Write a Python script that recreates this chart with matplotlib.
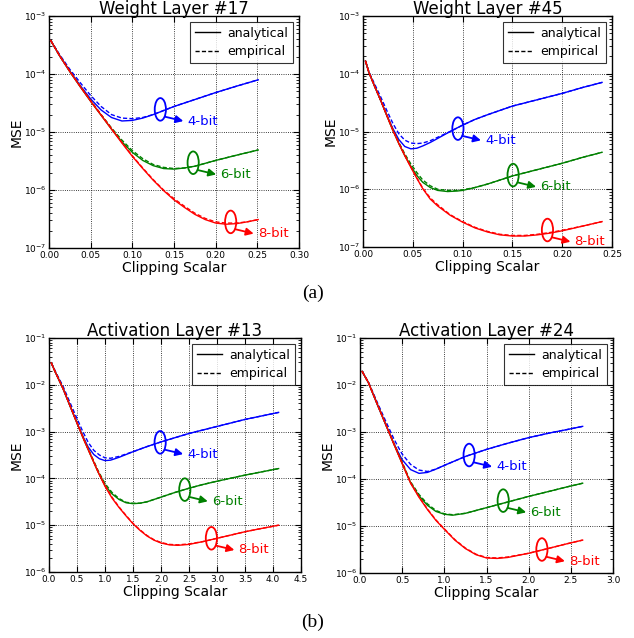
"""MSE versus clipping scalar for weight and activation layers (4/6/8-bit)."""

import matplotlib

matplotlib.use("Agg")
import matplotlib.pyplot as plt  # noqa: E402
import numpy as np  # noqa: E402
from matplotlib.patches import Ellipse  # noqa: E402
from matplotlib.transforms import ScaledTranslation  # noqa: E402

# ---- data (y values are log10 MSE) ----
# Weight Layer #17
w17_x4 = [0.002, 0.0125, 0.025, 0.0375, 0.05, 0.0625, 0.075, 0.0875, 0.1, 0.1125,
          0.125, 0.1375, 0.15, 0.175, 0.2, 0.225, 0.251]
w17_a4 = [-3.42, -3.68, -3.95, -4.20, -4.43, -4.62, -4.75, -4.81, -4.80, -4.76,
          -4.70, -4.63, -4.56, -4.44, -4.32, -4.21, -4.10]
w17_e4 = [-3.42, -3.66, -3.92, -4.15, -4.37, -4.56, -4.70, -4.76, -4.77, -4.75,
          -4.70, -4.63, -4.56, -4.44, -4.32, -4.21, -4.10]
w17_x6 = [0.002, 0.0125, 0.025, 0.0375, 0.05, 0.0625, 0.075, 0.0875, 0.1, 0.1125,
          0.125, 0.1375, 0.15, 0.1625, 0.175, 0.1875, 0.2, 0.225, 0.251]
w17_a6 = [-3.42, -3.68, -3.96, -4.22, -4.47, -4.71, -4.95, -5.17, -5.35, -5.49,
          -5.58, -5.63, -5.64, -5.62, -5.59, -5.54, -5.49, -5.40, -5.31]
w17_e6 = [-3.42, -3.68, -3.95, -4.21, -4.46, -4.70, -4.93, -5.14, -5.32, -5.46,
          -5.56, -5.61, -5.63, -5.62, -5.59, -5.54, -5.49, -5.40, -5.31]
w17_x8 = [0.002, 0.0125, 0.025, 0.0375, 0.05, 0.0625, 0.075, 0.0875, 0.1, 0.1125,
          0.125, 0.1375, 0.15, 0.1625, 0.175, 0.1875, 0.2, 0.2125, 0.225, 0.2375, 0.251]
w17_a8 = [-3.42, -3.68, -3.96, -4.22, -4.47, -4.71, -4.95, -5.19, -5.42, -5.63,
          -5.83, -6.01, -6.17, -6.30, -6.42, -6.51, -6.57, -6.59, -6.58, -6.55, -6.51]
w17_e8 = [-3.42, -3.68, -3.95, -4.21, -4.46, -4.70, -4.94, -5.18, -5.41, -5.62,
          -5.82, -6.00, -6.15, -6.28, -6.40, -6.49, -6.55, -6.57, -6.57, -6.55, -6.51]

# Weight Layer #45
w45_x4 = [0.0025, 0.006, 0.012, 0.018, 0.024, 0.03, 0.036, 0.042, 0.048, 0.054, 0.06,
          0.0675, 0.075, 0.0875, 0.1, 0.1125, 0.125, 0.15, 0.175, 0.2, 0.22, 0.24]
w45_a4 = [-3.78, -3.98, -4.23, -4.47, -4.72, -4.95, -5.14, -5.26, -5.30, -5.29, -5.25,
          -5.19, -5.12, -5.00, -4.89, -4.79, -4.71, -4.56, -4.45, -4.34, -4.24, -4.15]
w45_e4 = [-3.78, -3.97, -4.19, -4.41, -4.64, -4.86, -5.04, -5.15, -5.20, -5.21, -5.20,
          -5.16, -5.10, -5.00, -4.89, -4.79, -4.71, -4.56, -4.45, -4.34, -4.24, -4.15]
w45_x6 = [0.0025, 0.006, 0.012, 0.018, 0.024, 0.03, 0.036, 0.042, 0.048, 0.054, 0.06,
          0.0675, 0.075, 0.085, 0.095, 0.1, 0.1125, 0.125, 0.1375, 0.15, 0.175, 0.2,
          0.22, 0.24]
w45_a6 = [-3.78, -3.98, -4.23, -4.47, -4.73, -4.98, -5.21, -5.42, -5.60, -5.76, -5.88,
          -5.97, -6.02, -6.04, -6.03, -6.02, -5.97, -5.91, -5.84, -5.77, -5.66, -5.55,
          -5.45, -5.36]
w45_e6 = [-3.78, -3.98, -4.23, -4.47, -4.72, -4.97, -5.19, -5.39, -5.56, -5.71, -5.84,
          -5.94, -6.00, -6.02, -6.02, -6.01, -5.97, -5.91, -5.84, -5.77, -5.66, -5.55,
          -5.45, -5.36]
w45_x8 = [0.0025, 0.006, 0.012, 0.018, 0.024, 0.03, 0.036, 0.042, 0.048, 0.054, 0.06,
          0.0675, 0.075, 0.0875, 0.1, 0.1125, 0.125, 0.1375, 0.15, 0.1625, 0.175, 0.1875,
          0.2, 0.22, 0.24]
w45_a8 = [-3.78, -3.98, -4.23, -4.47, -4.73, -4.98, -5.21, -5.42, -5.62, -5.81, -5.99,
          -6.17, -6.29, -6.45, -6.57, -6.67, -6.74, -6.79, -6.81, -6.81, -6.79, -6.76,
          -6.72, -6.64, -6.56]
w45_e8 = [-3.78, -3.98, -4.23, -4.47, -4.72, -4.97, -5.20, -5.41, -5.61, -5.80, -5.98,
          -6.15, -6.27, -6.44, -6.56, -6.66, -6.73, -6.78, -6.80, -6.80, -6.78, -6.75,
          -6.71, -6.64, -6.56]

# Activation Layer #13
a13_x4 = [0.04, 0.125, 0.25, 0.375, 0.5, 0.6, 0.7, 0.8, 0.9, 1.0, 1.1, 1.25, 1.5,
          1.75, 2.0, 2.5, 3.0, 3.5, 4.1]
a13_a4 = [-1.53, -1.76, -2.08, -2.45, -2.81, -3.09, -3.33, -3.49, -3.58, -3.62, -3.61,
          -3.55, -3.43, -3.32, -3.22, -3.04, -2.89, -2.74, -2.59]
a13_e4 = [-1.53, -1.74, -2.03, -2.38, -2.72, -2.99, -3.23, -3.40, -3.50, -3.56, -3.57,
          -3.53, -3.43, -3.32, -3.22, -3.04, -2.89, -2.74, -2.59]
a13_x6 = [0.04, 0.125, 0.25, 0.375, 0.5, 0.625, 0.75, 0.875, 1.0, 1.125, 1.25, 1.375,
          1.5, 1.625, 1.75, 2.0, 2.25, 2.5, 2.75, 3.0, 3.5, 4.1]
a13_a6 = [-1.53, -1.76, -2.08, -2.45, -2.82, -3.18, -3.52, -3.86, -4.15, -4.33, -4.45,
          -4.52, -4.54, -4.53, -4.50, -4.40, -4.30, -4.21, -4.13, -4.06, -3.93, -3.79]
a13_e6 = [-1.53, -1.76, -2.07, -2.44, -2.81, -3.16, -3.50, -3.83, -4.11, -4.30, -4.43,
          -4.51, -4.53, -4.53, -4.50, -4.40, -4.30, -4.21, -4.13, -4.06, -3.93, -3.79]
a13_x8 = [0.04, 0.125, 0.25, 0.375, 0.5, 0.625, 0.75, 0.875, 1.0, 1.125, 1.25, 1.375,
          1.5, 1.625, 1.75, 1.875, 2.0, 2.15, 2.3, 2.5, 2.75, 3.0, 3.25, 3.5, 3.75, 4.1]
a13_a8 = [-1.53, -1.76, -2.08, -2.45, -2.82, -3.18, -3.52, -3.86, -4.17, -4.42, -4.62,
          -4.80, -4.97, -5.11, -5.23, -5.32, -5.38, -5.42, -5.43, -5.41, -5.35, -5.28,
          -5.21, -5.14, -5.08, -5.00]
a13_e8 = [-1.53, -1.76, -2.07, -2.44, -2.81, -3.17, -3.51, -3.85, -4.15, -4.40, -4.61,
          -4.79, -4.96, -5.10, -5.22, -5.31, -5.37, -5.41, -5.42, -5.40, -5.35, -5.28,
          -5.21, -5.14, -5.08, -5.00]

# Activation Layer #24
a24_x4 = [0.025, 0.1, 0.2, 0.3, 0.4, 0.45, 0.5, 0.6, 0.7, 0.8, 0.9, 1.0, 1.25, 1.5,
          1.75, 2.0, 2.25, 2.45, 2.64]
a24_a4 = [-1.71, -1.95, -2.39, -2.82, -3.24, -3.42, -3.59, -3.80, -3.88, -3.86, -3.79,
          -3.71, -3.52, -3.37, -3.24, -3.12, -3.02, -2.95, -2.88]
a24_e4 = [-1.71, -1.94, -2.35, -2.75, -3.14, -3.31, -3.47, -3.69, -3.81, -3.84, -3.79,
          -3.71, -3.52, -3.37, -3.24, -3.12, -3.02, -2.95, -2.88]
a24_x6 = [0.025, 0.1, 0.2, 0.3, 0.4, 0.5, 0.6, 0.7, 0.8, 0.9, 1.0, 1.1, 1.25, 1.5,
          1.75, 2.0, 2.25, 2.45, 2.64]
a24_a6 = [-1.71, -1.95, -2.39, -2.82, -3.25, -3.67, -4.08, -4.36, -4.56, -4.69, -4.75,
          -4.77, -4.73, -4.61, -4.49, -4.37, -4.26, -4.17, -4.09]
a24_e6 = [-1.71, -1.95, -2.38, -2.81, -3.23, -3.64, -4.06, -4.33, -4.53, -4.67, -4.74,
          -4.76, -4.73, -4.61, -4.49, -4.37, -4.26, -4.17, -4.09]
a24_x8 = [0.025, 0.1, 0.2, 0.3, 0.4, 0.5, 0.6, 0.7, 0.8, 0.9, 1.0, 1.125, 1.25, 1.375,
          1.5, 1.625, 1.75, 2.0, 2.25, 2.45, 2.64]
a24_a8 = [-1.71, -1.95, -2.39, -2.82, -3.25, -3.67, -4.09, -4.39, -4.65, -4.88, -5.07,
          -5.30, -5.48, -5.61, -5.68, -5.69, -5.67, -5.58, -5.47, -5.38, -5.30]
a24_e8 = [-1.71, -1.95, -2.38, -2.81, -3.24, -3.66, -4.08, -4.38, -4.64, -4.87, -5.06,
          -5.29, -5.47, -5.60, -5.67, -5.68, -5.66, -5.58, -5.47, -5.38, -5.30]

# ellipse markers: (x, log10 MSE) for 4-, 6-, 8-bit
w17_marks = [(0.1336, -4.61), (0.173, -5.53), (0.218, -6.55)]
w45_marks = [(0.0953, -4.95), (0.1507, -5.755), (0.1852, -6.706)]
a13_marks = [(1.985, -3.23), (2.425, -4.24), (2.90, -5.28)]
a24_marks = [(1.294, -3.49), (1.698, -4.46), (2.157, -5.50)]

bit_labels = ["4-bit", "6-bit", "8-bit"]
bit_colors = ["#0000ff", "#008000", "#ff0000"]

W, H = 634, 638
fig = plt.figure(figsize=(W / 100, H / 100), dpi=100)


def px_axes(left, top, right, bottom):
    return fig.add_axes([left / W, 1 - bottom / H, (right - left) / W, (bottom - top) / H])


def draw_panel(ax, title, curves, marks, xlim, ylim, xticks, xfmt):
    for (x, a, e), color in zip(curves, bit_colors):
        ax.plot(x, np.power(10.0, a), color=color, lw=1.0, zorder=3)
        ax.plot(x, np.power(10.0, e), color=color, lw=1.0, dashes=(3, 1.6), zorder=3)
    ax.plot([], [], color="k", lw=1.0, label="analytical")
    ax.plot([], [], color="k", lw=1.0, dashes=(3, 1.6), label="empirical")

    for (mx, my), color, label in zip(marks, bit_colors, bit_labels):
        my = 10.0 ** my
        anchor = ScaledTranslation(mx, my, ax.transData)
        ax.add_patch(Ellipse((0, 0), 0.112, 0.226, transform=fig.dpi_scale_trans + anchor,
                             fill=False, ec=color, lw=1.3, zorder=4))
        start = ax.transData + ScaledTranslation(0.045, -0.073, fig.dpi_scale_trans)
        tip = ax.transData + ScaledTranslation(0.23, -0.117, fig.dpi_scale_trans)
        ax.annotate("", xy=(mx, my), xycoords=tip, xytext=(mx, my), textcoords=start,
                    arrowprops=dict(arrowstyle="-|>", color=color, lw=1.3,
                                    mutation_scale=11, shrinkA=0, shrinkB=0), zorder=4)
        ax.annotate(label, xy=(mx, my), xytext=(19.5, -8.4), textcoords="offset points",
                    ha="left", va="center", color=color, fontsize=9.5, zorder=4)

    ax.set_yscale("log")
    ax.set_xlim(*xlim)
    ax.set_ylim(*ylim)
    ax.set_xticks(xticks)
    ax.set_xticklabels([xfmt.format(t) for t in xticks])
    ax.grid(True, which="major", color="k", linestyle=":", lw=0.6)
    ax.tick_params(which="both", direction="in", top=True, right=True, labelsize=6.5, pad=2)
    ax.tick_params(which="major", length=4)
    ax.tick_params(which="minor", length=2)
    for spine in ax.spines.values():
        spine.set_linewidth(1.0)
    # title placed by hand so it sits tight on the frame, as in the source figure
    title_pos = ax.transAxes + ScaledTranslation(0, 0.02, fig.dpi_scale_trans)
    ax.text(0.5, 1.0, title, transform=title_pos, ha="center", va="baseline", fontsize=12)
    ax.set_xlabel("Clipping Scalar", fontsize=10, labelpad=1)
    ax.set_ylabel("MSE", fontsize=10, labelpad=0)
    leg = ax.legend(loc="upper right", fontsize=9, fancybox=False, handlelength=2.0,
                    labelspacing=0.45, borderaxespad=0.45, handletextpad=0.6)
    leg.get_frame().set_edgecolor("k")
    leg.get_frame().set_linewidth(0.8)


ax_tl = px_axes(49, 16, 299, 248)
ax_tr = px_axes(363, 16, 612, 247)
ax_bl = px_axes(49, 338, 301, 572)
ax_br = px_axes(360, 338, 613, 573)

draw_panel(ax_tl, "Weight Layer #17",
           [(w17_x4, w17_a4, w17_e4), (w17_x6, w17_a6, w17_e6), (w17_x8, w17_a8, w17_e8)],
           w17_marks, (0, 0.30), (1e-7, 1e-3), [0, 0.05, 0.10, 0.15, 0.20, 0.25, 0.30], "{:.2f}")
draw_panel(ax_tr, "Weight Layer #45",
           [(w45_x4, w45_a4, w45_e4), (w45_x6, w45_a6, w45_e6), (w45_x8, w45_a8, w45_e8)],
           w45_marks, (0, 0.25), (1e-7, 1e-3), [0, 0.05, 0.10, 0.15, 0.20, 0.25], "{:.2f}")
draw_panel(ax_bl, "Activation Layer #13",
           [(a13_x4, a13_a4, a13_e4), (a13_x6, a13_a6, a13_e6), (a13_x8, a13_a8, a13_e8)],
           a13_marks, (0, 4.5), (1e-6, 1e-1), [0, 0.5, 1.0, 1.5, 2.0, 2.5, 3.0, 3.5, 4.0, 4.5],
           "{:.1f}")
draw_panel(ax_br, "Activation Layer #24",
           [(a24_x4, a24_a4, a24_e4), (a24_x6, a24_a6, a24_e6), (a24_x8, a24_a8, a24_e8)],
           a24_marks, (0, 3.0), (1e-6, 1e-1), [0, 0.5, 1.0, 1.5, 2.0, 2.5, 3.0], "{:.1f}")

fig.text(313 / W, 1 - 293 / H, "(a)", ha="center", va="center", fontsize=14,
         family="Liberation Serif")
fig.text(313 / W, 1 - 622 / H, "(b)", ha="center", va="center", fontsize=14,
         family="Liberation Serif")

fig.savefig("out.png", dpi=100)
